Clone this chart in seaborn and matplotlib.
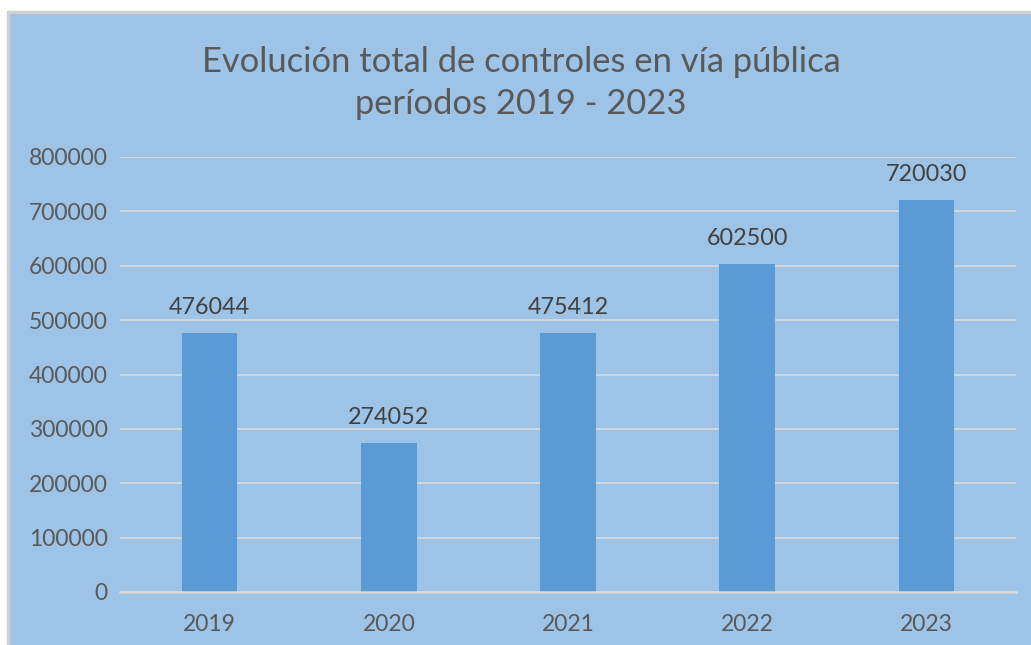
import seaborn as sns
import matplotlib.pyplot as plt
import pandas as pd
from matplotlib.patches import Rectangle
from matplotlib.lines import Line2D

# Datos del gráfico
anios = ['2019', '2020', '2021', '2022', '2023']
controles = [476044, 274052, 475412, 602500, 720030]
yticks = [0, 100000, 200000, 300000, 400000, 500000, 600000, 700000, 800000]

fondo = '#9DC3E6'
barra = '#5B9BD5'
texto = '#595959'

df = pd.DataFrame({'anio': anios, 'controles': controles})

sns.set_style('white')
plt.rcParams['font.family'] = ['Lato', 'DejaVu Sans']

fig = plt.figure(figsize=(10.31, 6.45), dpi=100)
fig.patch.set_facecolor('white')

# marco azul del gráfico con borde gris arriba y a la izquierda
W, H = 1031, 645
fig.patches.append(Rectangle((9 / W, 0), 1 - 9 / W, 1 - 13 / H, transform=fig.transFigure,
                             facecolor=fondo, edgecolor='none', zorder=-10))
fig.lines.append(Line2D([8 / W, 1], [1 - 11.5 / H] * 2, transform=fig.transFigure,
                        color='#D0D0D0', lw=2.5, zorder=-9))
fig.lines.append(Line2D([8 / W] * 2, [0, 1 - 11.5 / H], transform=fig.transFigure,
                        color='#D0D0D0', lw=2.5, zorder=-9))

ax = fig.add_axes([120 / W, 1 - 592 / H, (1016 - 120) / W, (592 - 157) / H])
ax.set_facecolor(fondo)

sns.barplot(data=df, x='anio', y='controles', color=barra, width=0.31,
            saturation=1, linewidth=0, edgecolor='none', ax=ax, zorder=3)

ax.set_ylim(0, 800000)
ax.set_xlim(-0.5, 4.5)
ax.set_yticks(yticks)
ax.set_yticklabels([str(v) for v in yticks])
ax.yaxis.grid(True, color='#D9D9D9', lw=1.2, zorder=0)
ax.set_axisbelow(True)
for s in ['top', 'right', 'left']:
    ax.spines[s].set_visible(False)
ax.spines['bottom'].set_color('#D9D9D9')
ax.spines['bottom'].set_linewidth(1.8)
ax.spines['bottom'].set_zorder(4)
ax.tick_params(axis='both', length=0, labelsize=16.5, colors=texto)
ax.tick_params(axis='y', pad=9)
ax.tick_params(axis='x', pad=16)
ax.set_xlabel('')
ax.set_ylabel('')

for i, v in enumerate(controles):
    ax.annotate(str(v), (i, v), xytext=(0, 11), textcoords='offset points',
                ha='center', va='bottom', fontsize=16.8, color='#404040')

fig.text(521 / W, 1 - 83 / H, 'Evolución total de controles en vía pública\nperíodos 2019 - 2023',
         ha='center', va='center', fontsize=24.8, color=texto, linespacing=1.35)

fig.savefig('out.png', dpi=100)
